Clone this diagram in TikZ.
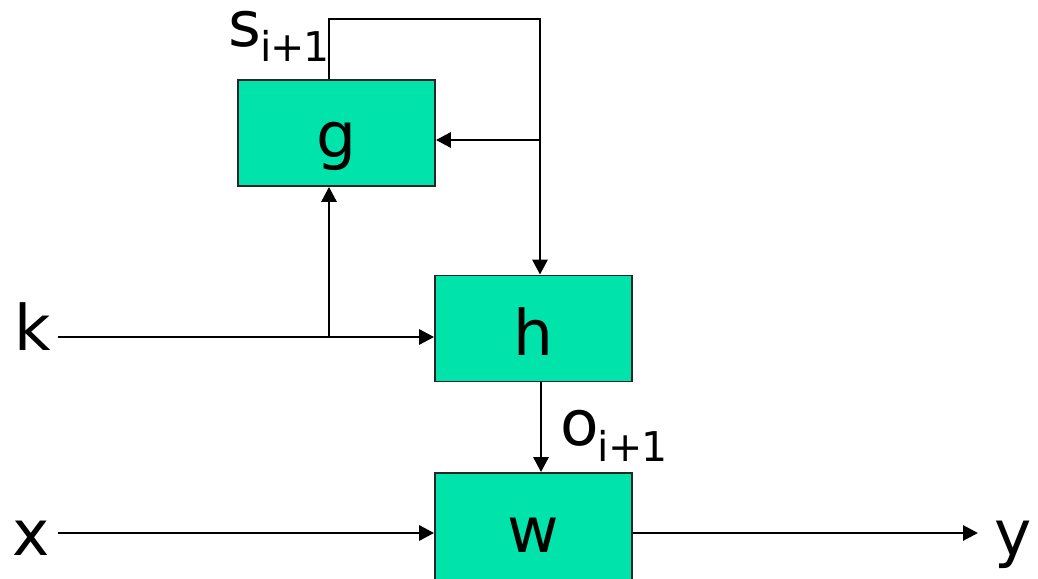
\documentclass[tikz,border=0pt]{standalone}
\usepackage{fontspec}
\setmainfont{DejaVu Sans}
\usetikzlibrary{arrows.meta}
\definecolor{boxgreen}{RGB}{0,227,170}
\newcommand{\bigfs}{\fontsize{63}{63}\selectfont}
\newcommand{\subfs}{\fontsize{41}{41}\selectfont}
\begin{document}
\begin{tikzpicture}[x=1pt,y=-1pt,
  blk/.style={draw=black!85,line width=1.8pt,fill=boxgreen,minimum width=197pt,minimum height=106pt,inner sep=0pt},
  wire/.style={line width=2.9pt,line cap=butt},
  arr/.style={wire,-{Triangle[length=15pt,width=15pt]}},
  lbl/.style={inner sep=0pt,anchor=base,font=\bigfs}
]
\useasboundingbox (0,0) rectangle (1038,578);
\clip (0,0) rectangle (1038,578);
% blocks
\node[blk] (g) at (336.5,133) {};
\node[blk] (h) at (533.5,328.5) {};
\node[blk,minimum height=140pt] (w) at (533.5,543) {};
% block labels
\node[lbl] (gl) at (336,157) {g};
\node[lbl] (hl) at (533,355) {h};
\node[lbl] (wl) at (533,552) {w};
% outer labels
\node[lbl] (kl) at (33,350) {k};
\node[lbl] (xl) at (31,555) {x};
\node[lbl] (yl) at (1013,555) {y};
\node[inner sep=0pt,anchor=base west] (sl) at (228,47) {\smash{\bigfs s\kern-1pt\raisebox{-15pt}{\subfs i\kern-1pt+\kern-1pt1}}};
\node[inner sep=0pt,anchor=base west] (ol) at (560,445) {\smash{\bigfs o\kern-1pt\raisebox{-16pt}{\subfs i\kern-1pt+\kern-1pt1}}};
% coordinates
\coordinate (kin) at (58,337);
\coordinate (kj) at (329,337);
\coordinate (top1) at (329,19);
\coordinate (top2) at (540,19);
\coordinate (gj) at (540,140);
\coordinate (hw) at (541,381);
\coordinate (xin) at (58,533);
\coordinate (yout) at (978,533);
% connectors
\draw[arr] (kin) -- (kin -| h.west);
\draw[arr] (kj) -- (kj |- g.south);
\draw[arr] (top1 |- g.north) -- (top1) -- (top2) -- (top2 |- h.north);
\draw[arr] (gj) -- (gj -| g.east);
\draw[arr] (h.south -| hw) -- (hw |- w.north);
\draw[arr] (xin) -- (xin -| w.west);
\draw[arr] (xin -| w.east) -- (yout);
\end{tikzpicture}
\end{document}
